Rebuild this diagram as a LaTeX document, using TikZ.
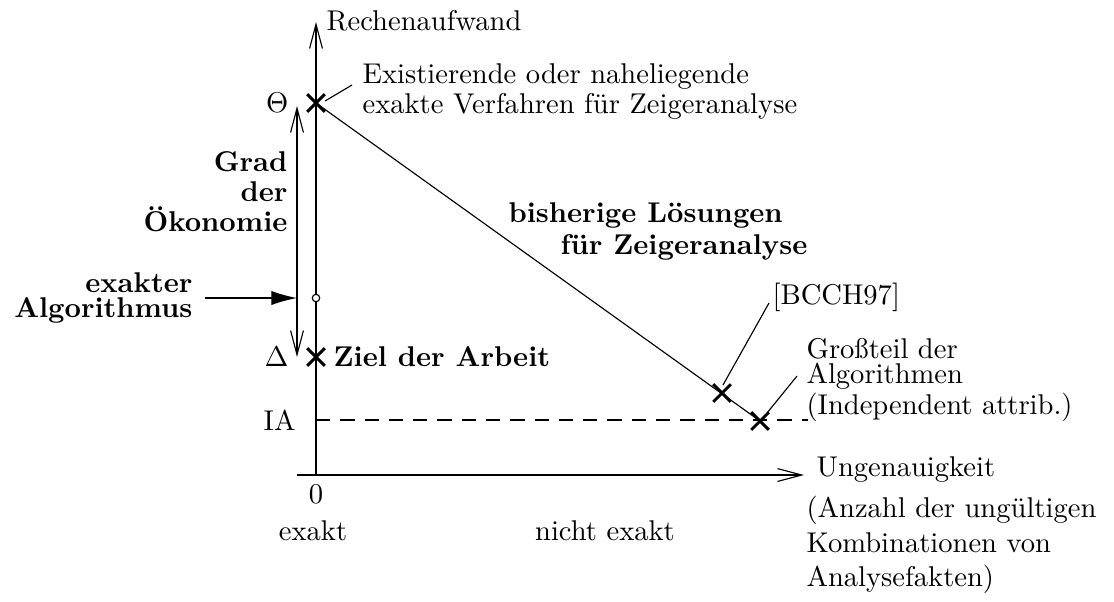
\documentclass[tikz,border=0pt]{standalone}
\usetikzlibrary{arrows.meta,shapes.misc}
\begin{document}
\begin{tikzpicture}[x=0.35pt,y=-0.35pt,
  axis/.style={-{Straight Barb[length=8.5pt,width=4.5pt]}},
  twoway/.style={{Straight Barb[length=8.5pt,width=4.5pt]}-{Straight Barb[length=8.5pt,width=4.5pt]}},
  pointer/.style={-{Latex[length=9pt,width=5pt]}},
  xmark/.style={cross out,draw,line width=1pt,minimum size=5.2pt,inner sep=0pt},
  lbl/.style={inner sep=0pt,font=\normalsize},
  blbl/.style={inner sep=0pt,font=\bfseries}]
\useasboundingbox (0,0) rectangle (1114,601);
% axes
\coordinate (ybot) at (316,475);
\coordinate (ytop) at (316,22);
\coordinate (xleft) at (297,475);
\coordinate (xright) at (804,475);
\draw[axis] (ybot) -- (ytop);
\draw[axis] (xleft) -- (xright);
\node[lbl,anchor=west] (yl) at (326,21) {Rechenaufwand};
\node[lbl,anchor=west] (xl) at (816,470) {Ungenauigkeit};
\node[lbl,anchor=west,align=left,execute at begin node={\setlength{\baselineskip}{12pt}}] (xl2) at (806,545) {(Anzahl der ungültigen\\Kombinationen von\\Analysefakten)};
\node[lbl] (zero) at (316,494) {0};
\node[lbl] (exakt) at (313,531) {exakt};
\node[lbl] (nexakt) at (605,531) {nicht exakt};
% marks
\node[xmark] (theta) at (316,103) {};
\node[xmark] (delta) at (316,357) {};
\node[xmark] (bcch) at (722,393) {};
\node[xmark] (gross) at (760,421) {};
\node[draw,circle,fill=white,minimum size=2.6pt,inner sep=0pt] (exact) at (316,298) {};
\node[lbl,anchor=east] (thetal) at (289,103) {$\Theta$};
\node[lbl,anchor=east] (deltal) at (289,357) {$\Delta$};
\node[lbl,anchor=east] (ial) at (296,420) {IA};
% lines
\draw (theta.center) -- (gross.center);
\coordinate (iaL) at (316,420);
\coordinate (iaR) at (808,420);
\draw[dash pattern=on 5pt off 3.5pt] (iaL) -- (iaR);
% double arrow
\coordinate (gtop) at (297,106);
\coordinate (gbot) at (297,357);
\draw[twoway] (gtop) -- (gbot);
\coordinate (pstart) at (205,298);
\coordinate (pend) at (297,298);
\draw[pointer] (pstart) -- (pend);
\node[blbl,anchor=east,align=right,execute at begin node={\setlength{\baselineskip}{10.5pt}}] (grad) at (288,192) {Grad\\der\\Ökonomie};
\node[blbl,anchor=east,align=right,execute at begin node={\setlength{\baselineskip}{8.9pt}}] (exalg) at (193,298) {exakter\\Algorithmus};
\node[blbl,anchor=west] (ziel) at (333,357) {Ziel der Arbeit};
\node[blbl,anchor=west] (bish1) at (508,215) {bisherige Lösungen};
\node[blbl,anchor=west] (bish2) at (560,247) {für Zeigeranalyse};
% annotations
\node[lbl,anchor=west,align=left,execute at begin node={\setlength{\baselineskip}{10.5pt}}] (exist) at (362,92) {Existierende oder naheliegende\\exakte Verfahren für Zeigeranalyse};
\coordinate (l1a) at (325,101);
\coordinate (l1b) at (352,85);
\draw (l1a) -- (l1b);
\node[lbl,anchor=west] (bcchl) at (772,297) {[BCCH97]};
\coordinate (l2a) at (723,385);
\coordinate (l2b) at (769,303);
\draw (l2a) -- (l2b);
\node[lbl,anchor=west,align=left,execute at begin node={\setlength{\baselineskip}{8.8pt}}] (grossl) at (806,380) {Großteil der\\Algorithmen\\(Independent attrib.)};
\coordinate (l3a) at (767,413);
\coordinate (l3b) at (797,376);
\draw (l3a) -- (l3b);
\end{tikzpicture}
\end{document}
